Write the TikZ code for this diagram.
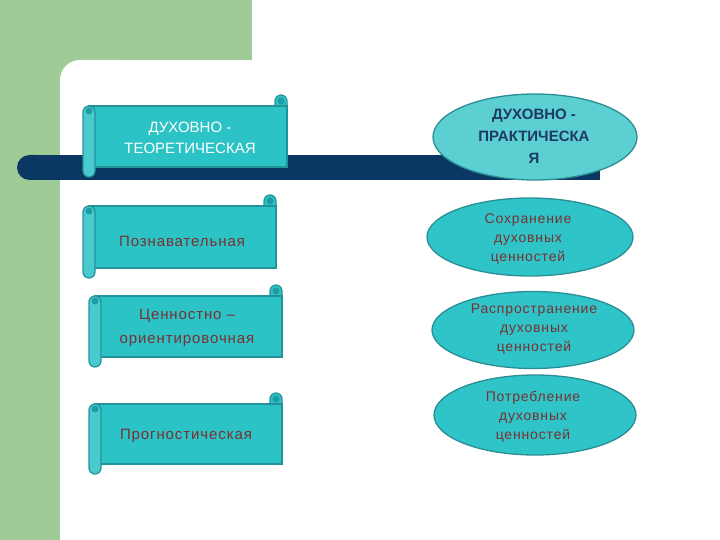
\documentclass[tikz,border=0pt]{standalone}
\usepackage{fontspec}
\setmainfont{Liberation Sans}
\newfontfamily\spacedfont[LetterSpace=6]{Liberation Sans}
\usetikzlibrary{shapes.geometric}
\definecolor{bggreen}{HTML}{9FCB97}
\definecolor{barnavy}{HTML}{0A3764}
\definecolor{scrollfill}{HTML}{2CC3C7}
\definecolor{rollfill}{HTML}{48CACF}
\definecolor{scrolledge}{HTML}{23939A}
\definecolor{curldark}{HTML}{1F9CA3}
\definecolor{ellfill}{HTML}{2EC4C8}
\definecolor{ellfilllight}{HTML}{5BCFD2}
\definecolor{elledge}{HTML}{2A8E94}
\definecolor{txtbrown}{HTML}{7A3030}
\definecolor{txtnavy}{HTML}{1F3A5F}
\tikzset{
  scrollpart/.style={fill=scrollfill, draw=scrolledge, line width=1.2pt},
  rollpart/.style={fill=rollfill, draw=scrolledge, line width=1.2pt, rounded corners=6pt},
  ellbox/.style={ellipse, fill=ellfill, draw=elledge, line width=1.3pt, inner sep=0pt},
  whitetext/.style={align=center, text=white, font=\fontsize{15}{21}\selectfont},
  navytext/.style={align=center, text=txtnavy, font=\bfseries\fontsize{15}{22}\selectfont},
  scrolltext/.style={align=center, text=txtbrown, font=\spacedfont\fontsize{15}{24}\selectfont},
  elltext/.style={align=center, text=txtbrown, font=\spacedfont\fontsize{14}{19}\selectfont}
}
\newcommand\scrollshape[4]{%
  \filldraw[scrollpart] (#3-12,#2) -- (#3-12,#2-5) arc[start angle=180,end angle=360,radius=6] -- (#3,#2) -- cycle;
  \filldraw[scrollpart] (#1+6,#2) rectangle (#3,#4);
  \fill[curldark] (#3-6,#2-5) circle[radius=3.5];
  \filldraw[rollpart] (#1,#2) rectangle (#1+12,#4+10);
  \fill[curldark] (#1+6,#2+5) circle[radius=3.5];
}
\begin{document}
\begin{tikzpicture}[x=1pt,y=-1pt]
\useasboundingbox (0,0) rectangle (720,540);
\fill[white] (0,0) rectangle (720,540);
% background
\fill[bggreen] (0,0) rectangle (252,60);
\fill[bggreen] (0,0) rectangle (80,80);
\fill[bggreen] (0,0) rectangle (60,540);
\fill[white] (60,540) -- (60,80) arc[start angle=180,end angle=270,radius=20] -- (120,60) -- (120,540) -- cycle;
% navy bar
\fill[barnavy] (30,155) rectangle (600,180);
\fill[barnavy, rounded corners=12.5pt] (17,155) rectangle (50,180);
% scrolls
\scrollshape{83}{106}{287}{167}
\node[whitetext] (s1) at (190,138) {ДУХОВНО -\\ТЕОРЕТИЧЕСКАЯ};
\scrollshape{83}{206}{276}{268}
\node[scrolltext] (s2) at (182,241) {Познавательная};
\scrollshape{89}{296}{282}{357}
\node[scrolltext] (s3) at (187,328) {Ценностно –\\ориентировочная};
\scrollshape{89}{404}{282}{464}
\node[scrolltext] (s4) at (186,436) {Прогностическая};
% ellipses
\node[ellbox, fill=ellfilllight, minimum width=204pt, minimum height=86pt] (e1) at (535,137) {};
\node[navytext] (e1t) at (534,136) {ДУХОВНО -\\ПРАКТИЧЕСКА\\Я};
\node[ellbox, minimum width=206pt, minimum height=78pt] (e2) at (530,237) {};
\node[elltext] (e2t) at (528,239) {Сохранение\\духовных\\ценностей};
\node[ellbox, minimum width=202pt, minimum height=77pt] (e3) at (533,330) {};
\node[elltext] (e3t) at (534,329) {Распространение\\духовных\\ценностей};
\node[ellbox, minimum width=202pt, minimum height=80pt] (e4) at (535,415) {};
\node[elltext] (e4t) at (533,417) {Потребление\\духовных\\ценностей};
\end{tikzpicture}
\end{document}
